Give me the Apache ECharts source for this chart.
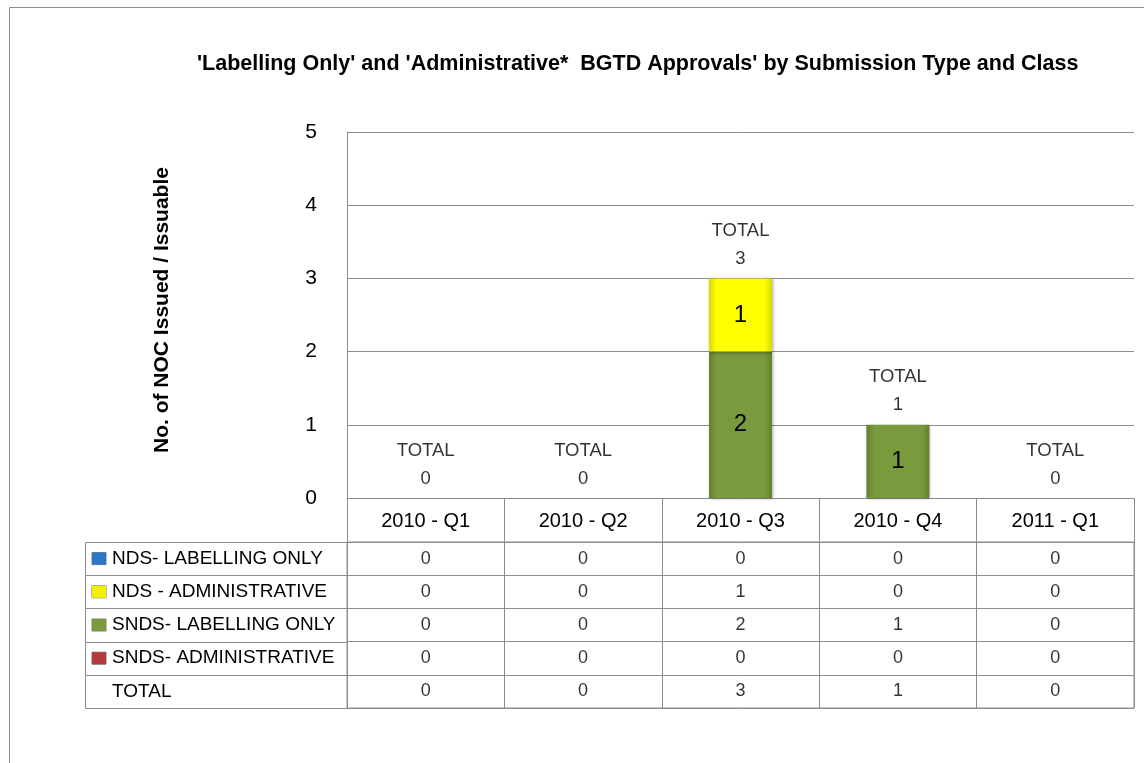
<!DOCTYPE html>
<html>
<head>
<meta charset="utf-8">
<script src="https://cdn.jsdelivr.net/npm/echarts@6/dist/echarts.min.js"></script>
<style>
  html, body { margin: 0; padding: 0; background: #fff; }
  #main { width: 1144px; height: 763px; }
</style>
</head>
<body>
<div id="main"></div>
<script>
const quarters = ['2010 - Q1', '2010 - Q2', '2010 - Q3', '2010 - Q4', '2011 - Q1'];
const ndsLabelling = [0, 0, 0, 0, 0];
const ndsAdmin = [0, 0, 1, 0, 0];
const sndsLabelling = [0, 0, 2, 1, 0];
const sndsAdmin = [0, 0, 0, 0, 0];
const totals = [0, 0, 3, 1, 0];
const rowNames = ['NDS- LABELLING ONLY', 'NDS - ADMINISTRATIVE', 'SNDS- LABELLING ONLY', 'SNDS- ADMINISTRATIVE', 'TOTAL'];
const yTicks = [0, 1, 2, 3, 4, 5];

const FONT = 'Liberation Sans';
const GRAY = '#8c8c8c';
// layout of plot + data table
const plotLeft = 347, plotRight = 1134, plotTop = 132, axisY = 498;
const tableTop = 542, tableBottom = 708, tableLeft = 85;
const rowH = (tableBottom - tableTop) / rowNames.length;

const chartDom = document.getElementById('main');
const myChart = echarts.init(chartDom);

const hGrad = (edge, mid) => new echarts.graphic.LinearGradient(0, 0, 1, 0, [
  {offset: 0, color: edge}, {offset: 0.12, color: mid},
  {offset: 0.88, color: mid}, {offset: 1, color: edge}
]);

const barLabel = {
  show: true,
  position: 'inside',
  fontFamily: FONT,
  fontSize: 24,
  color: '#000',
  formatter: p => (p.value ? String(p.value) : '')
};
const barShadow = {shadowColor: 'rgba(0,0,0,0.35)', shadowBlur: 3, shadowOffsetX: 1, shadowOffsetY: 1};

// table cells: [column, row, value]
const cells = [];
[ndsLabelling, ndsAdmin, sndsLabelling, sndsAdmin, totals].forEach((arr, r) => {
  arr.forEach((v, c) => cells.push([c, r, v]));
});

const iconColors = {a: '#2a78c8', b: '#f2f200', c: '#7a9a3e', d: '#b33b3b'};
const iconKeys = ['a', 'b', 'c', 'd', 'e'];
const rich = {};
Object.keys(iconColors).forEach(k => {
  rich[k] = {width: 14, height: 12, backgroundColor: iconColors[k], borderColor: '#777', borderWidth: 0.5};
});
rich.e = {width: 14, height: 12};
rich.t = {fontFamily: FONT, fontSize: 19, color: '#000', padding: [0, 0, 0, 6]};

const lines = [];
for (let i = 1; i < rowNames.length; i++) {
  const y = Math.round(tableTop + i * rowH) + 0.5;
  lines.push({type: 'line', shape: {x1: tableLeft, y1: y, x2: plotLeft, y2: y}, style: {stroke: GRAY, lineWidth: 1}, silent: true});
}

const option = {
  backgroundColor: '#fff',
  animation: false,
  title: {
    text: "'Labelling Only' and 'Administrative*  BGTD Approvals' by Submission Type and Class",
    left: 192,
    top: 48,
    textStyle: {fontFamily: FONT, fontSize: 21.5, fontWeight: 'bold', color: '#000'}
  },
  graphic: [
    {type: 'rect', shape: {x: 9.5, y: 7.5, width: 1300, height: 900}, style: {fill: 'none', stroke: GRAY, lineWidth: 1}, silent: true},
    {type: 'rect', shape: {x: tableLeft + 0.5, y: tableTop + 0.5, width: plotLeft - tableLeft, height: tableBottom - tableTop}, style: {fill: 'none', stroke: GRAY, lineWidth: 1}, silent: true}
  ].concat(lines),
  grid: [
    {left: plotLeft, right: 1144 - plotRight, top: plotTop, bottom: 763 - axisY},
    {left: plotLeft, right: 1144 - plotRight, top: tableTop, bottom: 763 - tableBottom, show: true, borderColor: GRAY, borderWidth: 1}
  ],
  xAxis: [
    {
      type: 'category',
      gridIndex: 0,
      data: quarters,
      axisLine: {lineStyle: {color: GRAY}},
      axisTick: {show: true, length: tableTop - axisY, lineStyle: {color: GRAY}},
      axisLabel: {margin: 13, fontFamily: FONT, fontSize: 20, color: '#000'}
    },
    {
      type: 'category',
      gridIndex: 1,
      data: quarters,
      axisLine: {show: false},
      axisTick: {show: false},
      axisLabel: {show: false},
      splitLine: {show: true, interval: 0, lineStyle: {color: GRAY}}
    }
  ],
  yAxis: [
    {
      type: 'value',
      gridIndex: 0,
      min: yTicks[0],
      max: yTicks[yTicks.length - 1],
      interval: 1,
      name: 'No. of NOC Issued / Issuable',
      nameLocation: 'middle',
      nameGap: 174,
      nameTextStyle: {fontFamily: FONT, fontSize: 21, fontWeight: 'bold', color: '#000', padding: [0, 0, 0, 10]},
      axisLine: {show: true, lineStyle: {color: GRAY}},
      axisTick: {show: false},
      axisLabel: {margin: 30, fontFamily: FONT, fontSize: 21, color: '#000'},
      splitLine: {lineStyle: {color: GRAY}}
    },
    {
      type: 'category',
      gridIndex: 1,
      inverse: true,
      data: rowNames,
      axisLine: {show: false},
      axisTick: {show: false},
      splitLine: {show: true, interval: 0, lineStyle: {color: GRAY}},
      axisLabel: {
        align: 'left',
        margin: plotLeft - 92,
        formatter: (v, i) => '{' + iconKeys[i] + '|}{t|' + v + '}',
        rich: rich
      }
    }
  ],
  series: [
    {name: 'SNDS- ADMINISTRATIVE', type: 'bar', stack: 'a', barWidth: '40%', data: sndsAdmin,
      itemStyle: Object.assign({color: hGrad('#8e2f2f', '#b33b3b')}, barShadow), label: barLabel},
    {name: 'SNDS- LABELLING ONLY', type: 'bar', stack: 'a', data: sndsLabelling,
      itemStyle: Object.assign({color: hGrad('#62802d', '#7a9a3e')}, barShadow), label: barLabel},
    {name: 'NDS - ADMINISTRATIVE', type: 'bar', stack: 'a', data: ndsAdmin,
      itemStyle: Object.assign({color: hGrad('#d9d900', '#ffff00')}, barShadow), label: barLabel},
    {name: 'NDS- LABELLING ONLY', type: 'bar', stack: 'a', data: ndsLabelling,
      itemStyle: Object.assign({color: hGrad('#1f5f9f', '#2a78c8')}, barShadow), label: barLabel},
    {
      name: 'TOTAL', type: 'scatter', data: totals, symbolSize: 1,
      itemStyle: {color: 'rgba(0,0,0,0)'},
      label: {
        show: true, position: 'top', distance: 5,
        fontFamily: FONT, fontSize: 18.5, lineHeight: 28, color: '#000', align: 'center',
        formatter: p => 'TOTAL\n' + p.value
      }
    },
    {
      name: 'table', type: 'scatter', xAxisIndex: 1, yAxisIndex: 1, data: cells, symbolSize: 1,
      itemStyle: {color: 'rgba(0,0,0,0)'},
      label: {
        show: true, position: 'inside', fontFamily: FONT, fontSize: 18, color: '#000',
        formatter: p => String(p.value[2])
      }
    }
  ]
};

option && myChart.setOption(option);
</script>
</body>
</html>
